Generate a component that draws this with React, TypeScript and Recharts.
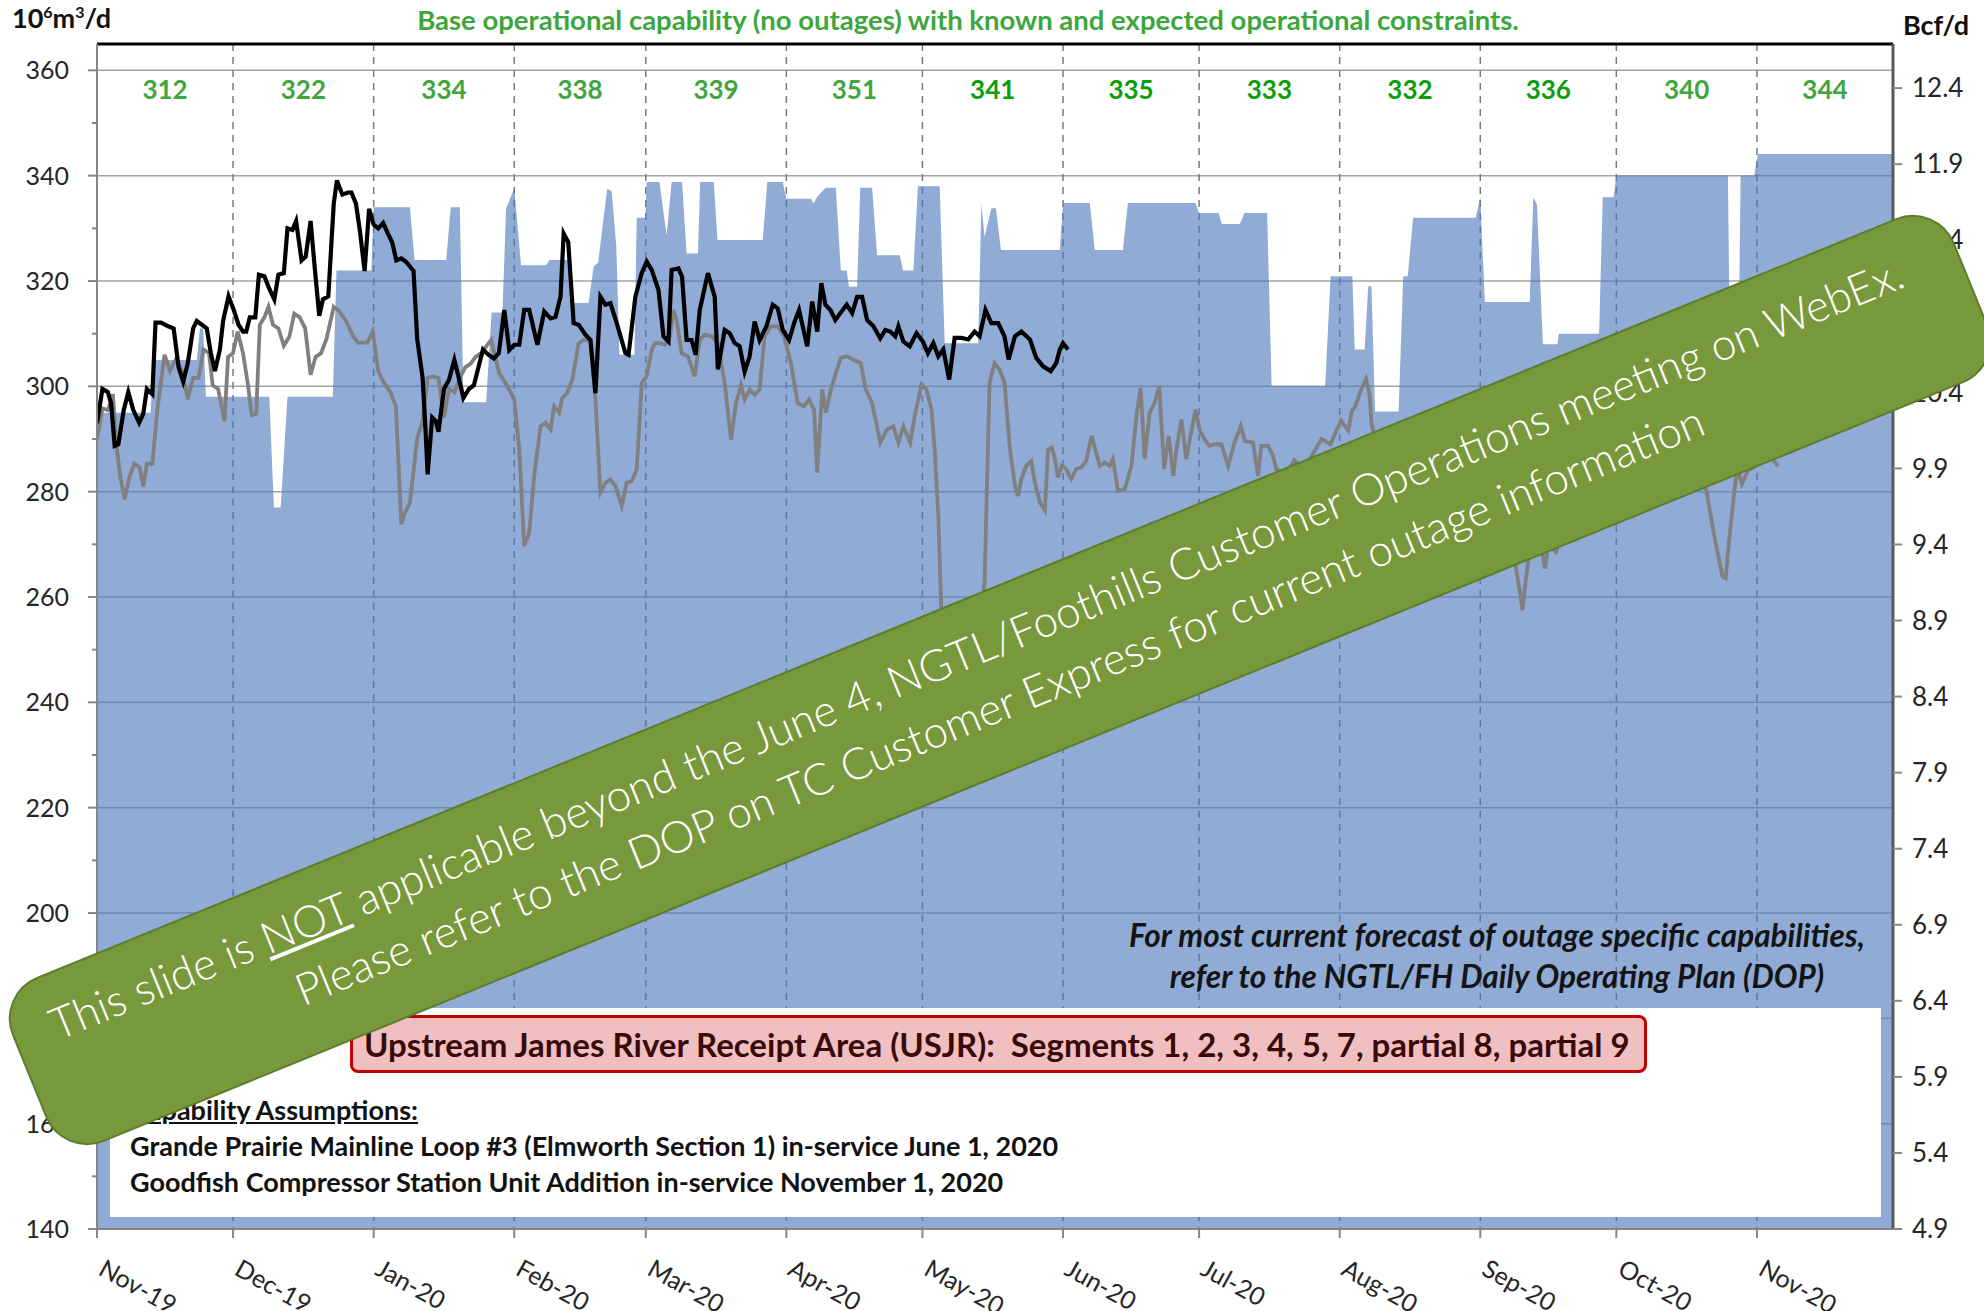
import React from 'react'
import {
  ComposedChart,
  Area,
  Line,
  Scatter,
  XAxis,
  YAxis,
  CartesianGrid,
  ReferenceLine,
} from 'recharts'

// day index counted from Nov 1 2019
const monthTicks = [0, 30, 61, 92, 121, 152, 182, 213, 243, 274, 305, 335, 366]
const monthLabels = [
  'Nov-19', 'Dec-19', 'Jan-20', 'Feb-20', 'Mar-20', 'Apr-20', 'May-20',
  'Jun-20', 'Jul-20', 'Aug-20', 'Sep-20', 'Oct-20', 'Nov-20',
]
const monthMidDays = [15, 45.5, 76.5, 106.5, 136.5, 167, 197.5, 228, 258.5, 289.5, 320, 350.5, 381]
const baseCapability = [312, 322, 334, 338, 339, 351, 341, 335, 333, 332, 336, 340, 344]

const leftTicks = [140, 150, 160, 170, 180, 190, 200, 210, 220, 230, 240, 250, 260, 270, 280, 290, 300, 310, 320, 330, 340, 350, 360]
const gridValues = [140, 160, 180, 200, 220, 240, 260, 280, 300, 320, 340, 360]
const rightTicks = [4.9, 5.4, 5.9, 6.4, 6.9, 7.4, 7.9, 8.4, 8.9, 9.4, 9.9, 10.4, 10.9, 11.4, 11.9, 12.4]

// capability with outages [day, 10^6m3/d]
const capability: [number, number][] = [
  [0, 290], [1, 295], [11.8, 295], [12.5, 305], [22, 305], [22.7, 311], [23.4, 311], [24, 298],
  [38, 298], [39, 277], [40.5, 277], [42, 298], [52, 298], [52.8, 322], [60.5, 322], [61, 334],
  [69, 334], [70, 324], [77, 324], [78, 334], [80, 334], [80.8, 297], [85.8, 297], [87, 314],
  [89.4, 314], [90.2, 333.8], [92, 337.5], [93.5, 323], [99, 323], [99.8, 324], [104, 324],
  [104.5, 315.8], [108.4, 315.8], [109.5, 322.7], [110.5, 323.5], [112.5, 337.5], [113.5, 337],
  [114.5, 326.5], [115.2, 306], [118.5, 306], [119, 332], [120.9, 332], [121.2, 338.8], [124, 338.8],
  [125.6, 328.7], [126.7, 338.8], [129, 338.8], [130, 325.2], [132.5, 325.2], [133, 338.8], [136, 338.8],
  [136.8, 327.8], [146.8, 327.8], [147.8, 338.8], [151.2, 338.8], [152, 335.6], [157.4, 335.6],
  [158, 334.7], [158.8, 336], [160.7, 337.7], [162.9, 337.7], [164, 322], [165.3, 322], [165.8, 318.9],
  [167.6, 318.9], [168.3, 337.7], [170.9, 337.7], [172, 324.9], [177, 324.9], [177.7, 322], [180, 322],
  [181, 338], [185.8, 338], [186.9, 308.2], [194.3, 308.2], [195, 334.7], [195.7, 328.4], [197.2, 333.8],
  [198.2, 333.8], [199.3, 325.9], [212.3, 325.9], [213, 334.8], [218.9, 334.8], [220, 325.9], [226.2, 325.9],
  [227.3, 334.8], [242.2, 334.8], [243, 332.9], [247.3, 332.9], [248, 330.8], [252, 330.8], [253, 332.9],
  [258, 332.9], [259, 300], [270.8, 300], [272, 320.9], [276.8, 320.9], [277.3, 307], [279.5, 307],
  [280.3, 319], [281, 319], [281.8, 295.2], [287, 295.2], [288, 320.9], [289, 320.9], [290.2, 332],
  [304, 332], [305, 335.9], [306, 316], [315.9, 316], [316.7, 335.9], [317.5, 334.5], [318.8, 308],
  [322, 308], [322.3, 310], [331.2, 310], [332, 335.9], [334.4, 335.9], [335, 340], [359.6, 340],
  [360, 310], [362, 310], [362.4, 340], [365.4, 340], [366.2, 344.1], [396, 344.1],
]

// prior year flow (grey)
const priorFlow: [number, number][] = [
  [0, 290], [1.2, 295.8], [2.4, 295.5], [3.5, 298.5], [4.3, 288.7], [5.1, 283], [6.1, 278.6], [7.1, 282.6],
  [8.2, 285.3], [9.4, 284.6], [10.2, 281], [11, 285.3], [12.2, 285.3], [13.3, 295.5], [14.9, 306],
  [16.1, 302.9], [17.3, 305], [18.8, 302.9], [20, 297.5], [21.2, 301.6], [22.4, 301.6], [23.5, 307],
  [24.7, 306.3], [25.5, 300.2], [26.7, 299.5], [28.1, 293.4], [28.9, 305.6], [30, 306.3], [31, 310.4],
  [32.2, 306.3], [33.3, 300.2], [34.1, 294.5], [35.1, 294.8], [35.9, 311.7], [36.9, 313.1], [37.8, 315.1],
  [38.8, 311.7], [40, 311], [41.2, 307.7], [42.4, 309.4], [43.5, 313.8], [44.7, 313.1], [45.9, 311],
  [47.1, 302.2], [48.2, 305.6], [49.4, 306.3], [50.6, 309], [52.2, 315.1], [53.3, 314.4], [54.9, 312.4],
  [56.5, 309.4], [57.6, 308.3], [59.6, 308.3], [60.8, 310.4], [62, 302.9], [63.1, 300.9], [64.7, 298.9],
  [65.9, 296.2], [67.1, 273.8], [67.8, 275.8], [69, 277.9], [70.6, 290.1], [71.8, 293.4], [72.9, 301.6],
  [74.1, 301.9], [75.3, 301.6], [76.5, 294.1], [77.6, 299.5], [78.8, 298.9], [80, 301.6], [81.2, 303.6],
  [82.4, 304.3], [83.5, 305.6], [84.7, 306.3], [85.9, 307.7], [86.9, 308.8], [88.7, 302.5], [90.9, 299.4],
  [92, 297.5], [93.1, 288], [94.2, 269.7], [95.3, 272.2], [96.4, 283], [97.8, 292.4], [98.9, 293.1],
  [100, 291.8], [100.8, 296.2], [101.9, 295], [102.6, 297.8], [103.7, 298.7], [104.8, 301.3], [106.2, 308.2],
  [107.3, 308.8], [108.8, 308.8], [109.9, 297.5], [111, 279.8], [112.1, 281.7], [113.2, 282.3], [114.3, 281.1],
  [115.7, 277.3], [116.8, 281.7], [117.9, 282], [119, 284.2], [120.1, 300.6], [121.2, 301.9], [122.3, 306.9],
  [123, 308.2], [124.1, 308.2], [125.2, 307.9], [126.3, 309.5], [127.1, 314.5], [127.8, 312.6], [128.9, 306.3],
  [130.3, 305.7], [131.8, 301.9], [132.9, 308.8], [134, 309.8], [135.5, 309.5], [136.9, 308.2], [138.4, 300.6],
  [139.8, 289.9], [140.9, 296.8], [142, 300.3], [142.8, 297.5], [143.9, 299.4], [145, 298.4], [146.1, 299.4],
  [147.2, 309.5], [148.6, 311.4], [150.1, 311.4], [151.5, 309.5], [153, 304.4], [154.5, 296.8], [155.9, 296.2],
  [157, 297.5], [158.1, 295.6], [158.8, 283.6], [159.9, 299.4], [160.7, 295], [161.8, 299.4], [162.9, 302.5],
  [164, 305.4], [165.4, 305.7], [166.9, 305], [168.4, 304.4], [169.5, 299.4], [170.9, 296.8], [172.7, 289.3],
  [174.2, 291.8], [175.6, 292.4], [176.7, 289.3], [177.8, 292.4], [179.3, 289.3], [180.3, 294.4], [181.8, 300.3],
  [182.9, 299.4], [184, 295.6], [184.7, 288], [185.5, 275.4], [186.2, 256.5], [187.5, 250], [190, 248],
  [193, 249], [194.8, 255], [195.7, 262.8], [196.8, 300.7], [197.9, 304.4], [199, 303.2], [200.1, 300.7],
  [201.3, 288], [202.4, 281.1], [203.1, 279.2], [203.8, 282.4], [204.9, 284.9], [206, 285.8], [206.8, 281.7],
  [207.9, 278], [209, 276.4], [209.7, 288], [210.5, 288.4], [211.2, 286.2], [211.9, 282.7], [212.7, 284.9],
  [213.7, 284.3], [214.8, 282.4], [215.9, 284.3], [217, 284.6], [218.1, 285.8], [219.3, 290.6], [220.3, 287.4],
  [221.1, 284.9], [222.2, 285.5], [223.3, 284.9], [224, 286.2], [225.1, 280.2], [226.6, 280.5], [228.1, 284.9],
  [229.2, 294.4], [230.1, 299.7], [231, 286.2], [232.1, 295], [233.2, 296.9], [234.2, 300], [235.3, 284.3],
  [236.3, 290.6], [237.3, 283], [238, 288], [239.1, 293.7], [240.2, 286.2], [241.1, 290.6], [242.2, 295.6],
  [243.1, 291.8], [244.2, 289.9], [245.3, 288.7], [246.4, 289], [247.9, 289], [249.4, 284.9], [250.8, 289.3],
  [252.2, 292.5], [253.1, 289.6], [254.9, 289.3], [256, 283], [256.7, 288.7], [258.2, 288.7], [259.3, 286.8],
  [260, 284.3], [262, 283], [264, 286], [266, 284], [268, 287], [270, 290], [272, 289], [273.1, 291.3],
  [274.3, 293.5], [275.9, 291.6], [276.7, 295.4], [277.4, 296.1], [278.6, 299.1], [279.8, 301.4], [280.6, 298.4],
  [281, 293.1], [283, 285], [285, 280], [287, 283], [289, 278], [291, 281], [293, 276], [295, 279], [297, 275],
  [299, 278], [301, 280], [303, 276], [305, 279], [307, 274], [309, 277], [311, 270], [312.8, 266], [313.9, 260],
  [314.3, 257.5], [315, 263], [316, 270], [318, 271], [319.3, 265.4], [320, 270], [321.7, 268.6], [323, 272],
  [325, 276], [328, 279], [331, 282], [334, 284], [337, 286], [340, 285], [343, 287], [346, 284], [349, 286],
  [352, 283], [354.8, 280.4], [356.5, 272], [358.4, 263.9], [359.1, 263.6], [360, 272], [361.6, 284.7],
  [362.7, 281.5], [364, 284], [366, 285], [368.6, 287.1], [370.6, 284.9],
]

// current year flow (black)
const currentFlow: [number, number][] = [
  [0, 293], [1.2, 299.5], [2.4, 298.9], [3.1, 296.8], [3.9, 288.7], [4.7, 289], [5.9, 295.5], [6.9, 298.9],
  [8, 295.5], [9.3, 293.1], [10.2, 294.8], [11, 299.5], [12.2, 298.5], [12.9, 312.1], [14.1, 312.1],
  [15.7, 311.4], [16.9, 311], [18, 303.6], [19, 300.9], [20, 304.3], [21.2, 311], [22, 312.4], [23.1, 311.7],
  [24.2, 311], [25.1, 306.3], [26, 302.9], [27.1, 307], [27.8, 312.4], [29, 317.1], [30.2, 314.4], [31.2, 311.7],
  [32.2, 310.4], [32.9, 310.4], [33.7, 313.1], [34.9, 313.1], [35.7, 321.2], [36.9, 320.9], [38, 318.5],
  [39.1, 316.5], [40, 321.2], [41.2, 321.5], [42, 330], [43.1, 329.7], [43.9, 331.4], [45.1, 323.9], [46, 324.6],
  [47.1, 331.4], [48, 322.6], [49, 313.4], [49.8, 316.5], [51, 317.1], [52.2, 334.7], [52.9, 339.1], [54.1, 336.4],
  [55.3, 336.8], [56.1, 336.8], [57.1, 334.7], [58, 329.3], [59, 321.9], [60, 333.7], [61, 330.7], [62, 330],
  [63.1, 331], [64.3, 328.7], [65.1, 327.3], [66, 323.9], [67.1, 324.3], [68.2, 323.6], [69.8, 321.9], [70.6, 309],
  [71.8, 301.6], [72.5, 290.7], [72.9, 283.3], [73.9, 294.1], [74.7, 293.4], [75.3, 291.4], [76.5, 299.5],
  [77.6, 301.2], [78.8, 305], [79.6, 302.2], [80.8, 297.8], [82, 299.5], [83.1, 300.2], [83.9, 302.9], [85.1, 307],
  [86.3, 306], [87.5, 305.3], [88.6, 306.3], [89.8, 314.5], [90.9, 306.9], [92, 307.9], [93.1, 307.9],
  [94.2, 314.5], [95.3, 314.5], [97.1, 307.9], [98.6, 314.2], [100, 312.9], [101.1, 313.2], [102.2, 317],
  [102.9, 329], [103.9, 327.4], [105.1, 312], [106.2, 311.7], [107.7, 309.8], [108.8, 308.8], [109.9, 298.7],
  [111, 317], [112.1, 315.5], [113.2, 315.8], [114.6, 312], [116.5, 306.3], [117.2, 306], [118.7, 317],
  [120.1, 321.5], [121.2, 323.7], [122.3, 322.1], [123.8, 318.3], [124.9, 309.5], [126, 308.5], [126.7, 322.1],
  [128.2, 322.4], [129, 320.8], [130, 308.8], [131.1, 308.8], [132, 306], [132.9, 314.5], [134.7, 321.5],
  [136.2, 317], [136.9, 303.2], [138.4, 310.7], [139.5, 310.1], [140.6, 308.2], [141.7, 307.6], [142.8, 302.8],
  [143.9, 305.7], [145, 312.3], [146.1, 308.8], [147.6, 311.4], [149, 315.5], [150.1, 314.8], [151.2, 310.7],
  [152.6, 308.8], [153.7, 312], [154.8, 314.5], [155.6, 311.4], [156.6, 307.6], [157.7, 316.1], [158.8, 310.4],
  [159.7, 319.6], [160.6, 315.5], [161.7, 314.5], [162.8, 312.6], [163.9, 313.9], [165.3, 315.5], [166.5, 313.9],
  [167.6, 317], [168.7, 317], [169.8, 312.6], [171.2, 311.4], [172.7, 309.1], [173.8, 310.7], [174.9, 310.4],
  [176, 309.5], [176.7, 311.4], [177.8, 308.5], [179.2, 307.6], [180.7, 310.1], [182.1, 308.5], [183.2, 306.3],
  [184.4, 308.2], [185.5, 305.7], [186.6, 307], [187.9, 301.3], [189.1, 309.2], [190.6, 309.2], [192.1, 308.9],
  [193.5, 310.4], [194.6, 309.5], [195.9, 314.5], [197.2, 312], [198.7, 312], [200.1, 309.5], [201, 305.1],
  [202.4, 309.5], [203.8, 310.4], [205.7, 308.9], [207.1, 305.4], [208.6, 303.8], [210.3, 302.9], [211.5, 304.4],
  [212.3, 307], [213, 308.2], [214.1, 307],
]

const BRIGHT_LABELS = [6, 7, 8, 9, 10]
const FONT = 'Lato, "Noto Sans", sans-serif'
const AXIS_TEXT = '#262626'

function buildRows() {
  const rows = new Map<number, any>()
  const put = (series: [number, number][], key: string) => {
    series.forEach(([day, v]) => {
      const r = rows.get(day) ?? { day }
      r[key] = v
      rows.set(day, r)
    })
  }
  put(capability, 'cap')
  put(priorFlow, 'prior')
  put(currentFlow, 'current')
  return [...rows.values()].sort((a, b) => a.day - b.day)
}

const rows = buildRows()
const labelPoints = monthMidDays.map((day, i) => ({ day, y: 356.3, v: baseCapability[i], i }))

function LeftTick(props: any) {
  const { x, y, payload } = props
  const major = payload.value % 20 === 0
  return (
    <g>
      <line x1={x} x2={x - (major ? 9 : 5)} y1={y} y2={y} stroke="#868686" strokeWidth={2} />
      {major && (
        <text x={x - 28} y={y} dy={9} textAnchor="end" fill={AXIS_TEXT} fontSize={25} fontFamily={FONT}>
          {payload.value}
        </text>
      )}
    </g>
  )
}

function MonthTick(props: any) {
  const { x, y, payload } = props
  const label = monthLabels[monthTicks.indexOf(payload.value)]
  const ty = y + 34
  return (
    <text x={x} y={ty} transform={`rotate(29, ${x}, ${ty})`} textAnchor="start"
      fill={AXIS_TEXT} fontSize={25} fontFamily={FONT}>
      {label}
    </text>
  )
}

function CapLabel(props: any) {
  const { cx, cy, payload } = props
  const bright = BRIGHT_LABELS.includes(payload.i)
  return (
    <text x={cx} y={cy} dy={9} textAnchor="middle" fontSize={26} fontWeight={700}
      fontFamily={FONT} fill={bright ? '#0A9E0A' : '#3FA63F'}>
      {payload.v}
    </text>
  )
}

export default function App() {
  return (
    <div style={{
      position: 'absolute', left: 0, top: 0, width: 1984, height: 1311,
      overflow: 'hidden', background: '#fff', fontFamily: FONT,
    }}>
      <ComposedChart
        width={1984}
        height={1311}
        data={rows}
        margin={{ top: 44, right: 21, bottom: 22, left: 37 }}
      >
        <CartesianGrid yAxisId="left" vertical={false} horizontalValues={gridValues}
          stroke="#A3A3A3" strokeWidth={1.5} />
        <CartesianGrid yAxisId="left" horizontal={false} stroke="#7A7A7A"
          strokeWidth={1.5} strokeDasharray="7 6" />
        <XAxis
          dataKey="day"
          type="number"
          domain={[0, 396]}
          ticks={monthTicks}
          interval={0}
          height={60}
          tickSize={9}
          tickMargin={2}
          tick={<MonthTick />}
          axisLine={{ stroke: '#868686', strokeWidth: 2 }}
          tickLine={{ stroke: '#868686', strokeWidth: 2 }}
          allowDataOverflow
        />
        <YAxis
          yAxisId="left"
          domain={[140, 365]}
          ticks={leftTicks}
          interval={0}
          width={60}
          tickSize={0}
          tickMargin={0}
          tickLine={false}
          tick={<LeftTick />}
          axisLine={{ stroke: '#868686', strokeWidth: 2 }}
          allowDataOverflow
        />
        <YAxis
          yAxisId="right"
          orientation="right"
          domain={[4.9, 12.69]}
          ticks={rightTicks}
          interval={0}
          width={70}
          tickSize={9}
          tickMargin={10}
          tickFormatter={(v: number) => v.toFixed(1)}
          tick={{ fill: AXIS_TEXT, fontSize: 26, fontFamily: FONT }}
          tickLine={{ stroke: '#868686', strokeWidth: 2 }}
          axisLine={{ stroke: '#595959', strokeWidth: 3 }}
          allowDataOverflow
        />
        <Area
          yAxisId="left"
          dataKey="cap"
          type="linear"
          fill="#4A78BD"
          fillOpacity={0.62}
          stroke="none"
          connectNulls
          dot={false}
          activeDot={false}
          isAnimationActive={false}
        />
        <Line
          yAxisId="left"
          dataKey="prior"
          type="linear"
          stroke="#808080"
          strokeWidth={3.8}
          connectNulls
          dot={false}
          activeDot={false}
          isAnimationActive={false}
        />
        <Line
          yAxisId="left"
          dataKey="current"
          type="linear"
          stroke="#000000"
          strokeWidth={4.2}
          connectNulls
          dot={false}
          activeDot={false}
          isAnimationActive={false}
        />
        <Scatter
          yAxisId="left"
          data={labelPoints}
          dataKey="y"
          shape={<CapLabel />}
          isAnimationActive={false}
        />
        <ReferenceLine yAxisId="left" y={365} stroke="#000" strokeWidth={3} />
      </ComposedChart>

      {/* header texts */}
      <div style={{ position: 'absolute', left: 12, top: 1, fontSize: 27, fontWeight: 700, color: '#111' }}>
        10<sup style={{ fontSize: 16 }}>6</sup>m<sup style={{ fontSize: 16 }}>3</sup>/d
      </div>
      <div style={{
        position: 'absolute', left: 168, width: 1600, top: 3, textAlign: 'center',
        fontSize: 27.5, fontWeight: 700, color: '#3DA63D',
      }}>
        Base operational capability (no outages) with known and expected operational constraints.
      </div>
      <div style={{ position: 'absolute', left: 1903, top: 8, fontSize: 27, fontWeight: 700, color: '#111' }}>
        Bcf/d
      </div>

      {/* DOP note */}
      <div style={{
        position: 'absolute', left: 997, width: 1000, top: 915, textAlign: 'center',
        fontSize: 31.5, lineHeight: '41px', fontWeight: 700, fontStyle: 'italic', color: '#141414',
      }}>
        For most current forecast of outage specific capabilities,<br />
        refer to the NGTL/FH Daily Operating Plan (DOP)
      </div>

      {/* assumptions box */}
      <div style={{ position: 'absolute', left: 110, top: 1008, width: 1771, height: 209, background: '#fff' }} />
      <div style={{
        position: 'absolute', left: 350, top: 1015, width: 1297, height: 58, boxSizing: 'border-box',
        background: '#F0C0C0', border: '3px solid #C00000', borderRadius: 8,
        display: 'flex', alignItems: 'center', paddingLeft: 11,
        fontSize: 33, fontWeight: 700, color: '#3A0A0A', whiteSpace: 'pre',
      }}>
        Upstream James River Receipt Area (USJR):  Segments 1, 2, 3, 4, 5, 7, partial 8, partial 9
      </div>
      <div style={{
        position: 'absolute', left: 130, top: 1092, fontSize: 27, lineHeight: '36px',
        fontWeight: 700, color: '#111', whiteSpace: 'nowrap',
      }}>
        <div style={{ textDecoration: 'underline' }}>Capability Assumptions:</div>
        <div>Grande Prairie Mainline Loop #3 (Elmworth Section 1) in-service June 1, 2020</div>
        <div>Goodfish Compressor Station Unit Addition in-service November 1, 2020</div>
      </div>

      {/* banner */}
      <div style={{
        position: 'absolute', left: 1000 - 1049, top: 680 - 89, width: 2098, height: 178,
        boxSizing: 'border-box', transform: 'rotate(-22.2deg)',
        background: '#78993B', border: '2.5px solid #5C7D2B', borderRadius: 45,
        display: 'flex', flexDirection: 'column', justifyContent: 'flex-start', alignItems: 'center',
        paddingTop: 18, paddingRight: 20,
        color: '#fff', fontFamily: 'Lato, "Open Sans", sans-serif', fontWeight: 300,
        fontSize: 44, lineHeight: '61px', whiteSpace: 'nowrap',
      }}>
        <div>This slide is <span style={{ textDecoration: 'underline' }}>NOT</span> applicable beyond the June 4, NGTL/Foothills Customer Operations meeting on WebEx.</div>
        <div>Please refer to the DOP on TC Customer Express for current outage information</div>
      </div>
    </div>
  )
}
